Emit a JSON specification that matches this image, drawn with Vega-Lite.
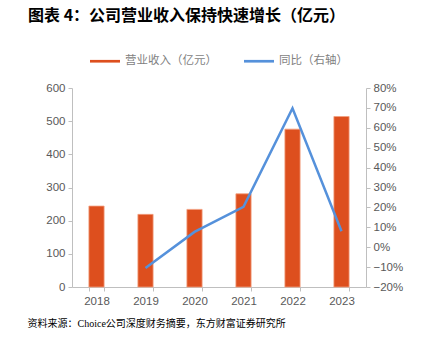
{
  "$schema": "https://vega.github.io/schema/vega-lite/v6.json",
  "width": 294,
  "height": 199,
  "autosize": {"type": "none"},
  "padding": {"left": 72, "top": 88, "right": 69, "bottom": 54},
  "background": "white",
  "title": {
    "text": "图表 4：公司营业收入保持快速增长（亿元）",
    "anchor": "start",
    "frame": "group",
    "dx": -44,
    "font": "Noto Sans CJK SC",
    "fontSize": 16,
    "fontWeight": "bold",
    "color": "#000000",
    "orient": "top",
    "offset": 14,
    "baseline": "middle"
  },
  "data": {
    "values": [
      {"year": "2018", "revenue": 244, "yoy": null},
      {"year": "2019", "revenue": 219, "yoy": -0.105},
      {"year": "2020", "revenue": 234, "yoy": 0.077},
      {"year": "2021", "revenue": 281, "yoy": 0.203},
      {"year": "2022", "revenue": 476, "yoy": 0.698},
      {"year": "2023", "revenue": 514, "yoy": 0.08}
    ]
  },
  "encoding": {
    "x": {
      "field": "year",
      "type": "nominal",
      "scale": {"paddingInner": 0.69, "paddingOuter": 0.345},
      "axis": {
        "title": "资料来源：Choice公司深度财务摘要，东方财富证券研究所",
        "titleAnchor": "start",
        "titleAlign": "left",
        "titleX": -45,
        "titleY": 36,
        "titleBaseline": "middle",
        "titleFont": "Liberation Serif, Noto Sans CJK SC",
        "titleFontSize": 10,
        "titleFontWeight": "normal",
        "titleColor": "#000000",
        "labelAngle": 0,
        "labelFont": "Liberation Sans",
        "labelFontSize": 11.5,
        "labelColor": "#595959",
        "labelPadding": 4,
        "domainColor": "#BFBFBF",
        "tickColor": "#BFBFBF",
        "tickBand": "extent",
        "tickSize": 4,
        "grid": false
      }
    }
  },
  "layer": [
    {
      "mark": {"type": "bar", "stroke": "#F2A07F", "strokeWidth": 0.8},
      "encoding": {
        "y": {
          "field": "revenue",
          "type": "quantitative",
          "scale": {"domain": [0, 600], "nice": false},
          "axis": {
            "title": null,
            "values": [0, 100, 200, 300, 400, 500, 600],
            "labelFont": "Liberation Sans",
            "labelFontSize": 11.5,
            "labelColor": "#595959",
            "labelPadding": 3,
            "domainColor": "#BFBFBF",
            "tickColor": "#BFBFBF",
            "tickSize": 4,
            "grid": false
          }
        },
        "color": {
          "datum": "营业收入（亿元）",
          "type": "nominal",
          "scale": {
            "domain": ["营业收入（亿元）", "同比（右轴）"],
            "range": ["#DD4F1E", "#5591DB"]
          },
          "legend": {
            "title": null,
            "orient": "none",
            "legendX": 18,
            "legendY": -42,
            "direction": "horizontal",
            "symbolType": "M-1,-0.09H1V0.09H-1Z",
            "symbolSize": 900,
            "symbolStrokeWidth": 0,
            "labelFont": "Noto Sans CJK SC",
            "labelFontSize": 11.5,
            "labelColor": "#7F7F7F",
            "labelOffset": 5,
            "columnPadding": 27,
            "encode": {
              "symbols": {
                "update": {
                  "fill": {"scale": "color", "field": "value"},
                  "fillOpacity": {"value": 1},
                  "stroke": {"value": "transparent"}
                }
              }
            }
          }
        }
      }
    },
    {
      "mark": {"type": "line", "strokeWidth": 2.5},
      "transform": [{"filter": "datum.yoy != null"}],
      "encoding": {
        "y": {
          "field": "yoy",
          "type": "quantitative",
          "scale": {"domain": [-0.2, 0.8], "nice": false},
          "axis": {
            "title": null,
            "orient": "right",
            "format": ".0%",
            "values": [-0.2, -0.1, 0, 0.1, 0.2, 0.3, 0.4, 0.5, 0.6, 0.7, 0.8],
            "labelFont": "Liberation Sans",
            "labelFontSize": 11.5,
            "labelColor": "#595959",
            "labelPadding": 3,
            "domainColor": "#BFBFBF",
            "tickColor": "#BFBFBF",
            "tickSize": 4,
            "grid": false
          }
        },
        "color": {"datum": "同比（右轴）", "type": "nominal"}
      }
    }
  ],
  "resolve": {"scale": {"y": "independent"}},
  "config": {"view": {"stroke": null}}
}
